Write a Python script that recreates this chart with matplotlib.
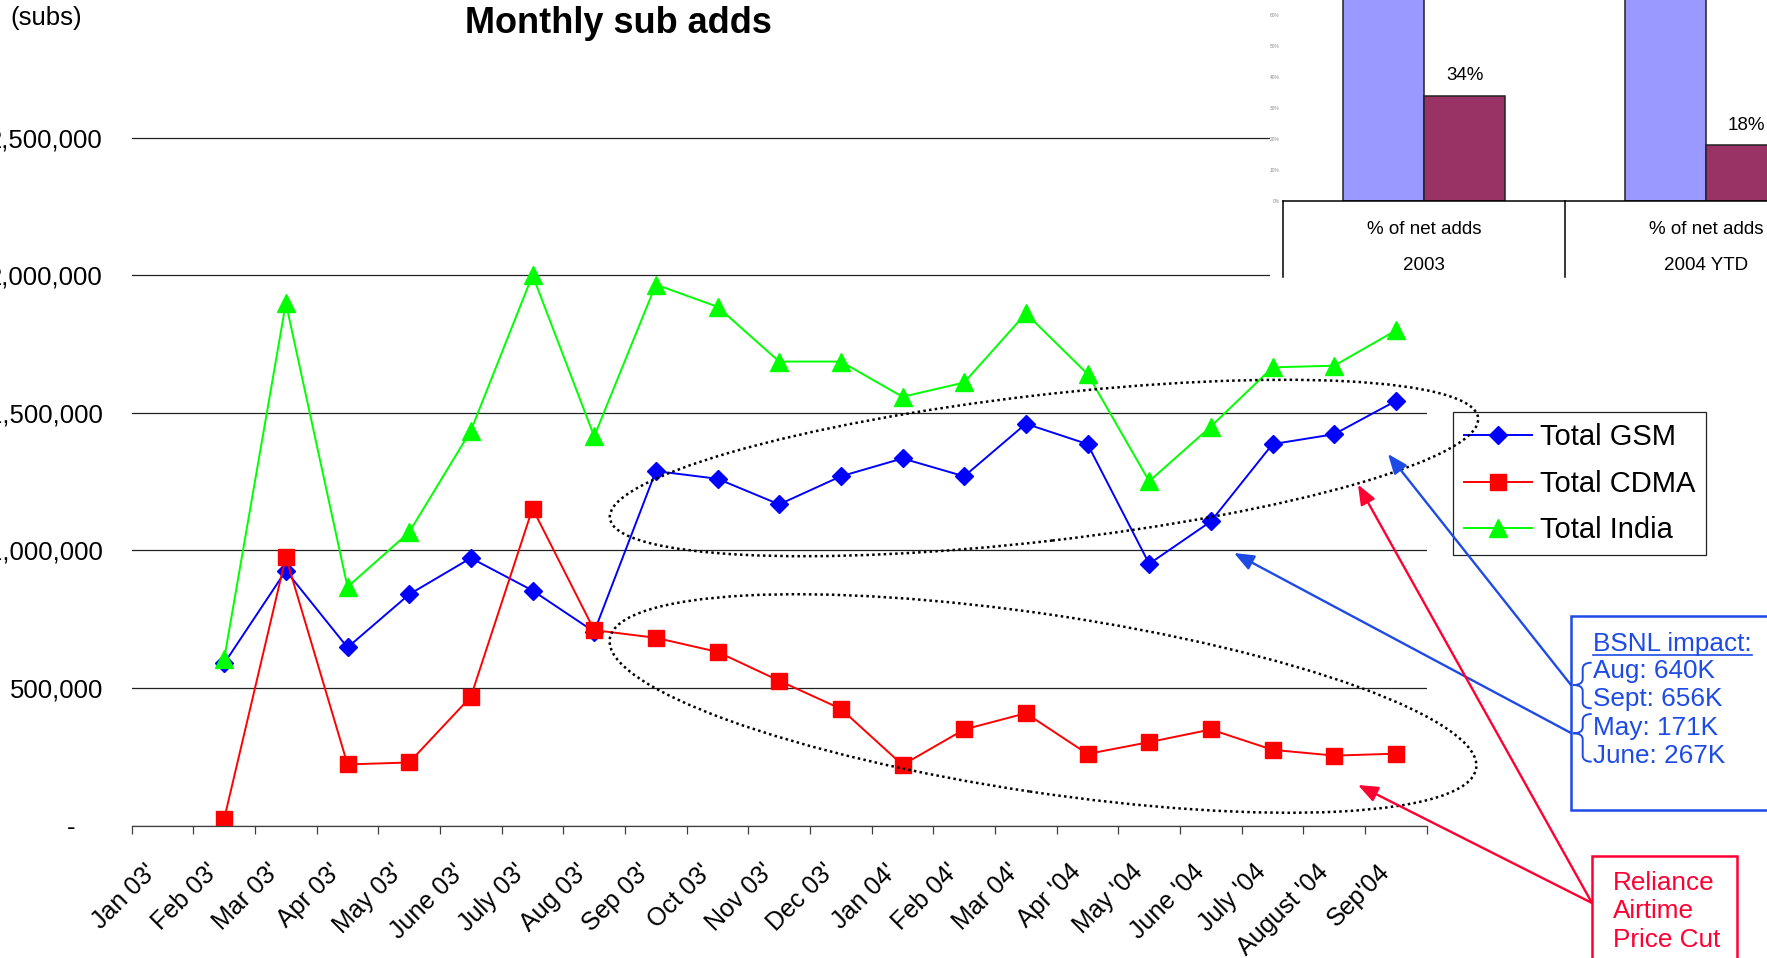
import numpy as np
import matplotlib
matplotlib.use('Agg')
import matplotlib.pyplot as plt
import matplotlib.transforms as mtransforms
from matplotlib.patches import Ellipse, Rectangle, FancyArrowPatch, PathPatch
from matplotlib.path import Path
from matplotlib.lines import Line2D

plt.rcParams['font.family'] = ['Liberation Sans', 'DejaVu Sans']

# ---- data (monthly net adds, subs) ----
months = ["Jan 03'", "Feb 03'", "Mar 03'", "Apr 03'", "May 03'", "June 03'",
          "July 03'", "Aug 03'", "Sep 03'", "Oct 03'", "Nov 03'", "Dec 03'",
          "Jan 04'", "Feb 04'", "Mar 04'", "Apr '04", "May '04", "June '04",
          "July '04", "August '04", "Sep'04"]
first_month = 1  # series start at Feb 03'

gsm = [589000, 926000, 647000, 840000, 972000, 854000, 704000, 1288000,
       1260000, 1167000, 1269000, 1334000, 1269000, 1460000, 1386000,
       951000, 1105000, 1386000, 1422000, 1543000]
cdma = [24000, 976000, 222000, 229000, 468000, 1152000, 710000, 682000,
        631000, 526000, 424000, 220000, 349000, 408000, 260000, 303000,
        349000, 275000, 254000, 261000]
india = [606000, 1899000, 867000, 1066000, 1435000, 2000000, 1414000,
         1966000, 1885000, 1686000, 1686000, 1558000, 1610000, 1861000,
         1641000, 1251000, 1450000, 1665000, 1671000, 1799000]

ytick_vals = [0, 500000, 1000000, 1500000, 2000000, 2500000]
ytick_labels = ['-', '500,000', '1,000,000', '1,500,000', '2,000,000', '2,500,000']

# inset: share of net adds
share_groups = ['2003', '2004 YTD']
share_other = [66, 82]
share_cdma = [34, 18]
share_ticks = [0, 10, 20, 30, 40, 50, 60]
share_tick_labels = ['0%', '10%', '20%', '30%', '40%', '50%', '60%']

bsnl_title = 'BSNL impact:'
bsnl_lines = ['Aug: 640K', 'Sept: 656K', 'May: 171K', 'June: 267K']
reliance_lines = ['Reliance', 'Airtime', 'Price Cut']

W, H = 1767, 958
fig = plt.figure(figsize=(W / 100, H / 100), dpi=100)


def inch(x, y):
    # image pixel (origin top-left) -> figure inches
    return (x / 100.0, (H - y) / 100.0)


BLUE_NOTE = '#1E4BE6'
RED_NOTE = '#FF0033'

# ---- main chart ----
ax = fig.add_axes([131.7 / W, 1 - 825.5 / H, 1295 / W, 825.5 / H])
ax.set_facecolor('none')
x = np.arange(first_month, first_month + len(gsm)) + 0.5
ax.plot(x, gsm, color='#0000FF', lw=1.4, marker='D', ms=9, label='Total GSM')
ax.plot(x, cdma, color='#FF0000', lw=1.4, marker='s', ms=11.5, label='Total CDMA')
ax.plot(x, india, color='#00FF00', lw=1.4, marker='^', ms=13, label='Total India')

ax.set_xlim(0, len(months))
ax.set_ylim(0, 3.0e6)

for s in ['left', 'top', 'right']:
    ax.spines[s].set_visible(False)
ax.spines['bottom'].set_color('#404040')
ax.spines['bottom'].set_linewidth(0.9)

ax.set_yticks(ytick_vals, labels=ytick_labels)
ax.tick_params(axis='y', length=0, pad=20.7, labelsize=18.5)
ax.yaxis.grid(True, color='#222222', lw=0.9)
ax.set_axisbelow(True)
ax.yaxis.get_major_ticks()[0].label1.set_x(-28 / 1295)

ax.set_xticks(np.arange(len(months) + 1))
ax.set_xticklabels([])
ax.tick_params(axis='x', which='major', length=5.8, width=0.9, color='#404040')
ax.set_xticks(np.arange(len(months)) + 0.5, labels=months, minor=True)
ax.tick_params(axis='x', which='minor', length=0, pad=30.6, labelsize=18)
shift = mtransforms.ScaledTranslation(-0.10, 0, fig.dpi_scale_trans)
for lbl in ax.get_xticklabels(minor=True):
    lbl.set(rotation=45, ha='right', va='center', rotation_mode='anchor')
    lbl.set_transform(lbl.get_transform() + shift)

leg = ax.legend(loc='upper left', bbox_to_anchor=(1453.3 / W, 1 - 412.3 / H),
                bbox_transform=fig.transFigure, borderaxespad=0, fontsize=21,
                fancybox=False, framealpha=1, edgecolor='#222222',
                handlelength=2.34, handletextpad=0.27, borderpad=0.37,
                labelspacing=0.64)
leg.get_frame().set_linewidth(0.9)

fig.text(618.6 / W, 1 - 33.3 / H, 'Monthly sub adds', ha='center', va='baseline',
         fontsize=26, fontweight='bold')
fig.text(10.5 / W, 1 - 24.7 / H, '(subs)', ha='left', va='baseline', fontsize=18.5)

# dotted ellipses
for cx, cy, w, h, ang in [(1044, 468, 874, 146, 6.6), (1043, 703.5, 876, 178, -8.5)]:
    fig.add_artist(Ellipse(inch(cx, cy), w / 100, h / 100, angle=ang,
                           transform=fig.dpi_scale_trans, fill=False,
                           edgecolor='black', lw=1.8, ls=(0, (1, 1.3)), zorder=1.2))

# ---- inset bar chart (share of net adds) ----
fig.add_artist(Rectangle((1270 / W, 1 - 281 / H), (W - 1270) / W, 281 / H,
                         transform=fig.transFigure, facecolor='white',
                         edgecolor='none', zorder=1))
ax2 = fig.add_axes([1283 / W, 1 - 201 / H, 564 / W, 201 / H])
ax2.set_zorder(2)
ax2.set_facecolor('none')
gx = np.arange(len(share_groups))
bw = 0.288
ax2.bar(gx - bw / 2, share_other, bw, color='#9999FF', edgecolor='#222222', lw=1.1)
ax2.bar(gx + bw / 2, share_cdma, bw, color='#993366', edgecolor='#222222', lw=1.1)
ax2.set_xlim(-0.5, len(share_groups) - 0.5)
ax2.set_ylim(0, 201 / 3.1)
for s in ['left', 'top', 'right']:
    ax2.spines[s].set_visible(False)
ax2.spines['bottom'].set_linewidth(1.1)
ax2.set_xticks([])
ax2.set_yticks(share_ticks, labels=share_tick_labels)
ax2.tick_params(axis='y', length=0, pad=2.5, labelsize=3.5, labelcolor='#888888')
for xi, v in zip(gx, share_cdma):
    ax2.annotate(f'{v}%', xy=(xi + bw / 2, v), xytext=(0, 20),
                 textcoords='offset pixels', ha='center', va='center', fontsize=13.5)
for xi, g in zip(gx, share_groups):
    ax2.annotate('% of net adds', xy=(xi, 0), xycoords=('data', 'axes fraction'),
                 xytext=(0, -28), textcoords='offset pixels', ha='center',
                 va='center', fontsize=13.5)
    ax2.annotate(g, xy=(xi, 0), xycoords=('data', 'axes fraction'),
                 xytext=(0, -64), textcoords='offset pixels', ha='center',
                 va='center', fontsize=13.5)
blend = mtransforms.blended_transform_factory(ax2.transData, ax2.transAxes)
for xb in np.arange(len(share_groups) + 1) - 0.5:
    ax2.plot([xb, xb], [0, -76 / 201], transform=blend, clip_on=False,
             color='black', lw=1.1)

# ---- callout boxes ----
fig.add_artist(Rectangle(inch(1571, 810), 3.0, 1.94, transform=fig.dpi_scale_trans,
                         facecolor='white', edgecolor=BLUE_NOTE, lw=1.8, zorder=2.5))
tb = fig.text(1593.3 / W, 1 - 650.7 / H, bsnl_title, ha='left', va='baseline',
              fontsize=18.8, color=BLUE_NOTE, zorder=3)
for i, line in enumerate(bsnl_lines):
    fig.text(1592.7 / W, 1 - (678 + 28.4 * i) / H, line, ha='left', va='baseline',
             fontsize=18.8, color=BLUE_NOTE, zorder=3)
r = fig.canvas.get_renderer()
bb = tb.get_window_extent(renderer=r)
fig.add_artist(Line2D([bb.x0 / W, bb.x1 / W], [1 - 655 / H, 1 - 655 / H],
                      transform=fig.transFigure, color=BLUE_NOTE, lw=1.2, zorder=3))


def brace(xl, xs, xr, yt, ym, yb, rr=6):
    pts = [(xr, yt), (xs, yt), (xs, yt + rr), (xs, ym - rr), (xs, ym), (xl, ym),
           (xs, ym), (xs, ym + rr), (xs, yb - rr), (xs, yb), (xr, yb)]
    codes = [Path.MOVETO, Path.CURVE3, Path.CURVE3, Path.LINETO, Path.CURVE3,
             Path.CURVE3, Path.CURVE3, Path.CURVE3, Path.LINETO, Path.CURVE3,
             Path.CURVE3]
    return Path([inch(px, py) for px, py in pts], codes)


for yt, ym, yb in [(662.7, 685, 708.3), (714, 733.3, 761.7)]:
    fig.add_artist(PathPatch(brace(1573.3, 1582.7, 1591.7, yt, ym, yb),
                             transform=fig.dpi_scale_trans, fill=False,
                             edgecolor=BLUE_NOTE, lw=1.4, zorder=3))

fig.add_artist(Rectangle(inch(1591.7, 1000), (1737.3 - 1591.7) / 100, (1000 - 856) / 100,
                         transform=fig.dpi_scale_trans, facecolor='white',
                         edgecolor=RED_NOTE, lw=1.8, zorder=2.5))
for i, line in enumerate(reliance_lines):
    fig.text(1613.3 / W, 1 - (890 + 28.3 * i) / H, line, ha='left', va='baseline',
             fontsize=18.8, color=RED_NOTE, zorder=3)

# arrows
arrows = [((1571, 685), (1388, 454), BLUE_NOTE),
          ((1571, 733), (1234, 553), BLUE_NOTE),
          ((1592, 903), (1358, 484.6), RED_NOTE),
          ((1592, 903), (1358, 785), RED_NOTE)]
for a, b, c in arrows:
    fig.add_artist(FancyArrowPatch(inch(*a), inch(*b), transform=fig.dpi_scale_trans,
                                   arrowstyle='-|>,head_length=0.5,head_width=0.2',
                                   mutation_scale=24, lw=1.7, color=c,
                                   shrinkA=0, shrinkB=0, zorder=4))

fig.savefig('out.png', dpi=100)
